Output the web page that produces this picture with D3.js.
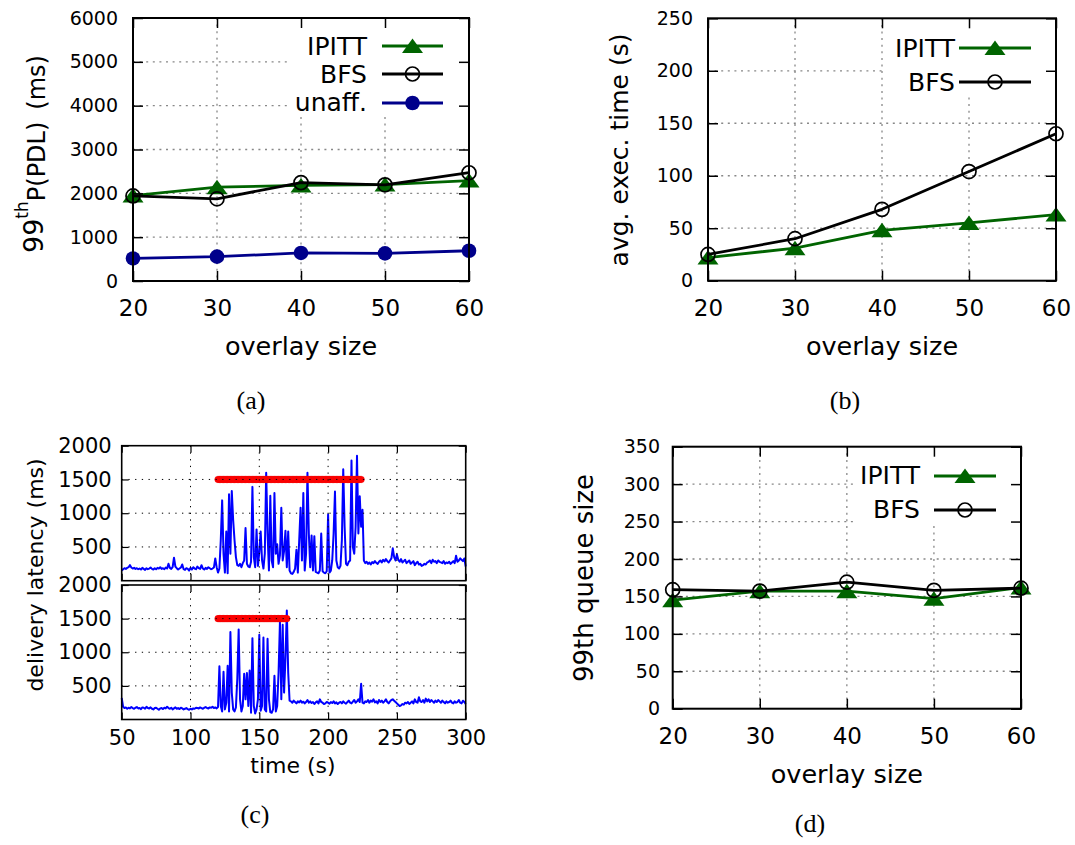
<!DOCTYPE html>
<html><head><meta charset="utf-8">
<script src="https://cdn.jsdelivr.net/npm/d3@7"></script>
<style>body{margin:0;background:#fff}</style>
</head><body>
<svg id="fig" width="1075" height="845"></svg>
<script>
// ---------------- data ----------------
const overlaySizes = [20, 30, 40, 50, 60];
const pdlIPITT = [1950, 2140, 2180, 2200, 2290];
const pdlBFS   = [1940, 1875, 2245, 2195, 2470];
const pdlUnaff = [515, 555, 640, 630, 690];
const execIPITT = [22, 31, 48, 55, 63];
const execBFS   = [25, 40, 68, 104, 140];
const queueIPITT = [145, 157, 157, 147, 162];
const queueBFS   = [159, 157, 169, 158, 161];

const pdlTicks = [0, 1000, 2000, 3000, 4000, 5000, 6000];
const execTicks = [0, 50, 100, 150, 200, 250];
const queueTicks = [0, 50, 100, 150, 200, 250, 300, 350];
const timeTicks = [50, 100, 150, 200, 250, 300];
const latencyTicks = [500, 1000, 1500, 2000];

const legendA = ["IPITT", "BFS", "unaff."];
const legendB = ["IPITT", "BFS"];

// delivery latency (ms), sampled once per second from t = 50 s to t = 300 s
const latencySampleStart = 50, latencySampleStep = 1;
const latencyTop = [
 150,170,185,175,190,200,230,195,180,190,
 175,185,170,180,165,190,175,160,185,170,
 180,195,175,165,185,170,190,180,200,175,
 185,170,195,180,250,190,175,200,340,210,
 185,165,180,195,240,170,160,185,175,150,
 190,165,200,180,170,210,185,175,230,180,
 165,190,175,200,185,170,180,195,
 330,200,
 120,180,600,1190,400,120,730,110,1280,400,
 1330,900,600,350,230,220,250,200,260,300,
 780,250,210,200,280,1390,350,200,760,220,
 420,730,300,180,400,1600,700,150,1260,300,
 200,1300,400,540,250,380,1080,300,440,740,
 200,730,150,110,100,130,180,460,120,600,
 1080,300,1300,150,400,1600,700,200,670,150,
 660,130,120,110,150,700,140,120,110,140,
 980,120,150,300,700,1320,300,200,180,220,
 600,1650,800,250,230,280,300,1780,500,400,
 800,1850,700,1250,800,1050,300,
 260,280,250,270,240,275,260,290,265,250,
 280,300,270,310,285,320,290,270,300,330,
 480,350,300,390,310,280,320,270,290,310,
 260,280,300,250,270,290,230,260,280,240,
 250,220,230,250,240,270,280,300,260,310,
 280,290,260,300,280,270,260,290,250,270,
 260,280,250,270,290,260,370,280,300,330,
 310,290,330,210
];
const latencyBottom = [
 320,190,170,180,160,175,165,185,170,160,
 175,185,165,170,155,180,175,160,190,170,
 165,180,160,150,170,175,160,145,165,170,
 155,175,165,190,170,160,175,150,165,180,
 160,170,155,175,165,150,160,170,155,145,
 160,150,165,160,175,170,165,180,170,160,
 175,185,170,165,180,175,190,170,180,165,
 185,
 790,200,120,710,150,250,800,120,1300,400,
 150,120,180,600,1340,300,120,200,680,300,
 690,200,730,100,1210,200,90,150,300,1260,
 130,200,1220,150,120,1200,300,110,100,150,
 650,120,200,700,1450,300,1410,400,900,1620,
 700,280,
 270,250,280,260,240,270,255,280,250,265,
 240,260,290,250,270,245,260,230,255,270,
 240,300,260,250,230,240,260,250,235,260,
 245,270,240,255,230,250,260,240,270,250,
 235,260,280,250,240,265,290,250,270,300,
 260,530,250,240,270,260,290,250,280,265,
 300,255,270,240,290,260,280,250,270,300,
 260,240,270,290,300,280,260,240,220,200,
 210,230,220,250,240,260,230,250,270,240,
 300,260,250,330,270,260,290,250,310,270,
 300,260,290,270,250,280,260,290,270,250,
 280,260,240,270,250,260,280,250,240,270,
 250,260,290,250,240,280,260,230
];
// attack period markers (times in s, drawn at 1500 ms)
const attackLevel = 1500;
const attackTopTimes = [120,121,122,123,124,125,126,127,128,129,130,131,132,133,134,135,136,137,138,139,
 140,141,142,143,144,145,146,147,148,149,150,151,152,153,154,155,156,157,158,159,
 160,161,162,163,164,165,166,167,168,169,170,171,172,173,174,175,176,177,178,179,
 180,181,182,183,184,185,186,187,188,189,190,191,192,193,194,195,196,197,198,199,
 200,201,202,203,204,205,206,207,208,209,210,211,212,213,214,215,216,217,218,219,
 220,221,222,223,224];
const attackBottomTimes = [120,121,122,123,124,125,126,127,128,129,130,131,132,133,134,135,136,137,138,139,
 140,141,142,143,144,145,146,147,148,149,150,151,152,153,154,155,156,157,158,159,
 160,161,162,163,164,165,166,167,168,169,170];

// ---------------- drawing ----------------
const FONT = "DejaVu Sans, sans-serif";
const SERIF = "Liberation Serif, DejaVu Serif, serif";
const GREEN = "#006400", NAVY = "#00008b";
const svg = d3.select("#fig");

function marker(sel, type, color) {
  if (type === "tri") {
    sel.append("path").attr("d", "M-10.5,7L10.5,7L0,-7.5Z").attr("fill", color);
  } else if (type === "open") {
    sel.append("circle").attr("r", 7).attr("fill", "none").attr("stroke", color).attr("stroke-width", 1.7);
  } else {
    sel.append("circle").attr("r", 7.3).attr("fill", color);
  }
}

function gnuplotPanel(c) {
  const x = d3.scaleLinear().domain([20, 60]).range([c.L, c.R]);
  const y = d3.scaleLinear().domain([0, c.yMax]).range([c.B, c.T]);
  const g = svg.append("g");
  // grid
  g.selectAll(".hg").data(c.yTicks.filter(v => v > 0 && v < c.yMax)).join("line")
    .attr("x1", c.L).attr("x2", c.R).attr("y1", d => y(d)).attr("y2", d => y(d))
    .attr("stroke", "#888").attr("stroke-width", 1.3).attr("stroke-dasharray", "2,4.6");
  g.selectAll(".vg").data(overlaySizes.filter(v => v > 20 && v < 60)).join("line")
    .attr("y1", c.T).attr("y2", c.B).attr("x1", d => x(d)).attr("x2", d => x(d))
    .attr("stroke", "#888").attr("stroke-width", 1.3).attr("stroke-dasharray", "2,4.6");
  // opaque key box
  g.append("rect").attr("x", c.box[0]).attr("y", c.box[1])
    .attr("width", c.box[2] - c.box[0]).attr("height", c.box[3] - c.box[1]).attr("fill", "#fff");
  // series
  const line = d3.line().x((d, i) => x(overlaySizes[i])).y(d => y(d));
  c.series.forEach(s => {
    g.append("path").attr("d", line(s.values)).attr("fill", "none")
      .attr("stroke", s.color).attr("stroke-width", 2.8).attr("stroke-linejoin", "round");
    s.values.forEach((v, i) => {
      const m = g.append("g").attr("transform", `translate(${x(overlaySizes[i])},${y(v)})`);
      marker(m, s.marker, s.color);
    });
  });
  // key
  c.series.forEach((s, k) => {
    const row = c.keyRows[k];
    g.append("text").attr("x", c.keyTextRight).attr("y", row.base).attr("text-anchor", "end")
      .attr("font-family", FONT).attr("font-size", 25).text(c.keyLabels[k]);
    g.append("line").attr("x1", c.keyLine[0]).attr("x2", c.keyLine[1]).attr("y1", row.y).attr("y2", row.y)
      .attr("stroke", s.color).attr("stroke-width", 2.8);
    const m = g.append("g").attr("transform", `translate(${(c.keyLine[0] + c.keyLine[1]) / 2},${row.y})`);
    marker(m, s.marker, s.color);
  });
  // axes (inward ticks on all four sides)
  const styleAx = (a) => {
    a.select(".domain").remove();
    a.selectAll("line").attr("stroke", "#000").attr("stroke-width", 1.5);
    a.selectAll("text").attr("font-family", FONT).attr("fill", "#000");
  };
  const ay = g.append("g").attr("transform", `translate(${c.L},0)`)
    .call(d3.axisLeft(y).tickValues(c.yTicks).tickSizeInner(-10).tickSizeOuter(0).tickPadding(c.yPad).tickFormat(d3.format("d")));
  styleAx(ay); ay.selectAll("text").attr("font-size", 19);
  const ar = g.append("g").attr("transform", `translate(${c.R},0)`)
    .call(d3.axisRight(y).tickValues(c.yTicks).tickSizeInner(-10).tickSizeOuter(0).tickFormat(""));
  styleAx(ar);
  const ax = g.append("g").attr("transform", `translate(0,${c.B})`)
    .call(d3.axisBottom(x).tickValues(overlaySizes).tickSizeInner(-10).tickSizeOuter(0).tickFormat(d3.format("d")));
  styleAx(ax); ax.selectAll("text").attr("font-size", 23).attr("y", 35).attr("dy", 0);
  const at = g.append("g").attr("transform", `translate(0,${c.T})`)
    .call(d3.axisTop(x).tickValues(overlaySizes).tickSizeInner(-10).tickSizeOuter(0).tickFormat(""));
  styleAx(at);
  // frame
  g.append("rect").attr("x", c.L).attr("y", c.T).attr("width", c.R - c.L).attr("height", c.B - c.T)
    .attr("fill", "none").attr("stroke", "#000").attr("stroke-width", 2);
  // x title
  g.append("text").attr("x", (c.L + c.R) / 2).attr("y", c.B + 74).attr("text-anchor", "middle")
    .attr("font-family", FONT).attr("font-size", 25.5).text("overlay size");
  return g;
}

// (a)
gnuplotPanel({
  L: 133, R: 469, T: 18, B: 281, yMax: 6000, yTicks: pdlTicks, yPad: 15,
  box: [290, 19, 468, 115],
  series: [
    { values: pdlIPITT, color: GREEN, marker: "tri" },
    { values: pdlBFS, color: "#000", marker: "open" },
    { values: pdlUnaff, color: NAVY, marker: "fill" }
  ],
  keyLabels: legendA, keyTextRight: 367, keyLine: [382, 443],
  keyRows: [{ y: 46, base: 55 }, { y: 74, base: 83 }, { y: 103, base: 111 }]
});
const ya = svg.append("text").attr("transform", "translate(45,253) rotate(-90)")
  .attr("font-family", FONT).attr("fill", "#000");
ya.append("tspan").attr("font-size", 27).attr("dy", -2).text("99");
ya.append("tspan").attr("font-size", 17).attr("dy", -15).text("th");
ya.append("tspan").attr("font-size", 24).attr("dy", 17).text("P(PDL)");
ya.append("tspan").attr("font-size", 24).attr("dx", 12).text("(ms)");

// (b)
gnuplotPanel({
  L: 708, R: 1056, T: 18.3, B: 280.7, yMax: 250, yTicks: execTicks, yPad: 15,
  box: [884, 19, 1055, 97],
  series: [
    { values: execIPITT, color: GREEN, marker: "tri" },
    { values: execBFS, color: "#000", marker: "open" }
  ],
  keyLabels: legendB, keyTextRight: 955, keyLine: [959, 1031],
  keyRows: [{ y: 48, base: 57 }, { y: 82, base: 91 }]
});
svg.append("text").attr("transform", "translate(628,150) rotate(-90)").attr("text-anchor", "middle")
  .attr("font-family", FONT).attr("font-size", 25).text("avg. exec. time (s)");

// (d)
gnuplotPanel({
  L: 672.7, R: 1021, T: 446.7, B: 708.7, yMax: 350, yTicks: queueTicks, yPad: 12.7,
  box: [855, 447.5, 1020, 523],
  series: [
    { values: queueIPITT, color: GREEN, marker: "tri" },
    { values: queueBFS, color: "#000", marker: "open" }
  ],
  keyLabels: legendB, keyTextRight: 920, keyLine: [934, 996],
  keyRows: [{ y: 476, base: 484 }, { y: 510, base: 518 }]
});
svg.append("text").attr("transform", "translate(593,578) rotate(-90)").attr("text-anchor", "middle")
  .attr("font-family", FONT).attr("font-size", 26).text("99th queue size");

// (c)
function latencyPanel(values, attackTimes, T, B, showX) {
  const L = 121.7, R = 465.7;
  const x = d3.scaleLinear().domain([50, 300]).range([L, R]);
  const y = d3.scaleLinear().domain([0, 2000]).range([B, T]);
  const g = svg.append("g");
  const line = d3.line().x((d, i) => x(latencySampleStart + i * latencySampleStep)).y(d => y(d));
  g.append("path").attr("d", line(values)).attr("fill", "none").attr("stroke", "#0000ff")
    .attr("stroke-width", 2).attr("stroke-linejoin", "round");
  g.selectAll(".atk").data(attackTimes).join("circle")
    .attr("cx", d => x(d)).attr("cy", y(attackLevel)).attr("r", 3.3)
    .attr("fill", "#ff0000").attr("stroke", "#f00000").attr("stroke-width", 0.4);
  // grid on top (matplotlib style)
  g.selectAll(".hg").data([500, 1000, 1500]).join("line")
    .attr("x1", L).attr("x2", R).attr("y1", d => y(d)).attr("y2", d => y(d))
    .attr("stroke", "#000").attr("stroke-width", 1).attr("stroke-dasharray", "1.3,5.4");
  g.selectAll(".vg").data(timeTicks.filter(v => v > 50 && v < 300)).join("line")
    .attr("y1", T).attr("y2", B).attr("x1", d => x(d)).attr("x2", d => x(d))
    .attr("stroke", "#000").attr("stroke-width", 1).attr("stroke-dasharray", "1.3,5.4");
  const styleAx = (a) => {
    a.select(".domain").remove();
    a.selectAll("line").attr("stroke", "#000").attr("stroke-width", 1.2);
    a.selectAll("text").attr("font-family", FONT).attr("fill", "#000").attr("font-size", 21);
  };
  const ay = g.append("g").attr("transform", `translate(${L},0)`)
    .call(d3.axisLeft(y).tickValues(latencyTicks).tickSizeInner(-7).tickSizeOuter(0).tickPadding(10).tickFormat(d3.format("d")));
  styleAx(ay);
  const ar = g.append("g").attr("transform", `translate(${R},0)`)
    .call(d3.axisRight(y).tickValues(latencyTicks).tickSizeInner(-7).tickSizeOuter(0).tickFormat(""));
  styleAx(ar);
  const ax = g.append("g").attr("transform", `translate(0,${B})`)
    .call(d3.axisBottom(x).tickValues(timeTicks).tickSizeInner(-7).tickSizeOuter(0).tickFormat(showX ? d3.format("d") : ""));
  styleAx(ax); ax.selectAll("text").attr("y", 25.5).attr("dy", 0);
  const at = g.append("g").attr("transform", `translate(0,${T})`)
    .call(d3.axisTop(x).tickValues(timeTicks).tickSizeInner(-7).tickSizeOuter(0).tickFormat(""));
  styleAx(at);
  g.append("rect").attr("x", L).attr("y", T).attr("width", R - L).attr("height", B - T)
    .attr("fill", "none").attr("stroke", "#000").attr("stroke-width", 1.6);
}
latencyPanel(latencyTop, attackTopTimes, 445.7, 580.7, false);
latencyPanel(latencyBottom, attackBottomTimes, 585, 719.5, true);
svg.append("text").attr("x", 293).attr("y", 773).attr("text-anchor", "middle")
  .attr("font-family", FONT).attr("font-size", 22).text("time (s)");
svg.append("text").attr("transform", "translate(43,575) rotate(-90)").attr("text-anchor", "middle")
  .attr("font-family", FONT).attr("font-size", 22).text("delivery latency (ms)");

// captions
[["(a)", 251, 409], ["(b)", 845, 409], ["(c)", 255, 823], ["(d)", 810, 832]].forEach(([t, cx, cy]) => {
  svg.append("text").attr("x", cx).attr("y", cy).attr("text-anchor", "middle")
    .attr("font-family", SERIF).attr("font-size", 26).text(t);
});
</script>
</body></html>
